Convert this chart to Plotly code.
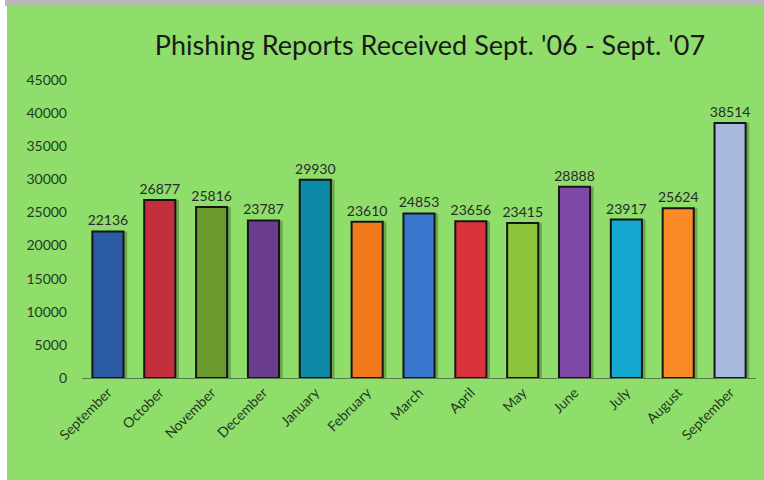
import plotly.graph_objects as go

months = ["September", "October", "November", "December", "January", "February",
          "March", "April", "May", "June", "July", "August", "September"]
reports = [22136, 26877, 25816, 23787, 29930, 23610, 24853, 23656, 23415,
           28888, 23917, 25624, 38514]
bar_colors = ["#2c5ba6", "#c3303b", "#6a9a2c", "#6b3d8e", "#0f8aa6", "#f07a1c",
              "#3a78cf", "#d9333e", "#8cc43c", "#7e48a6", "#15a8cf", "#f98a25",
              "#a9b9e0"]
y_ticks = [0, 5000, 10000, 15000, 20000, 25000, 30000, 35000, 40000, 45000]
title_text = "Phishing Reports Received Sept. '06 - Sept. '07"

W, H = 764, 480
L, R, T, B = 82, 8, 80, 102
pw, ph = W - L - R, H - T - B

def px(x):
    return (x - L) / pw

def py(y):
    return (H - B - y) / ph

x_idx = list(range(len(months)))
FONT = "Lato, Noto Sans, sans-serif"

fig = go.Figure()
# soft shadow behind bars
fig.add_trace(go.Bar(
    x=x_idx, y=reports, marker=dict(color="rgba(40,70,20,0.35)", line=dict(width=0)),
    offset=-0.25, width=0.62, hoverinfo="skip", showlegend=False,
))
fig.add_trace(go.Bar(
    x=x_idx, y=reports,
    marker=dict(color=bar_colors, line=dict(color="#151515", width=2)),
    width=0.6, offset=-0.3,
    text=[str(v) for v in reports], textposition="outside",
    constraintext="none",
    textfont=dict(family=FONT, size=14, color="#2a2a2a"),
    cliponaxis=False, showlegend=False,
))

fig.update_layout(
    width=W, height=H,
    margin=dict(l=L, r=R, t=T, b=B),
    paper_bgcolor="white",
    plot_bgcolor="rgba(0,0,0,0)",
    barmode="overlay",
    title=dict(text=title_text, x=px(430), xref="paper", xanchor="center",
               y=1 - 46 / H, yanchor="middle",
               font=dict(family=FONT, size=27, color="#1a1a1a")),
    font=dict(family=FONT, color="#2a2a2a"),
    xaxis=dict(
        tickmode="array", tickvals=x_idx, ticktext=months, tickangle=-45,
        range=[-0.5, len(months) - 0.5],
        showline=True, linecolor="#5a7a4a", linewidth=1, showgrid=False,
        ticks="", tickfont=dict(size=14, color="#1f3a1f"), zeroline=False,
    ),
    yaxis=dict(
        range=[0, 45000], tickvals=y_ticks, ticktext=[str(v) for v in y_ticks],
        showgrid=False, zeroline=False, showline=False, ticks="",
        ticklabelstandoff=14,
        tickfont=dict(size=14, color="#1f3a1f"),
    ),
    shapes=[
        dict(type="rect", xref="paper", yref="paper", layer="below",
             x0=px(5), x1=px(W), y0=py(0), y1=py(6),
             fillcolor="#b9b9b9", line=dict(width=0)),
        dict(type="rect", xref="paper", yref="paper", layer="below",
             x0=px(7), x1=px(W), y0=py(6), y1=py(H),
             fillcolor="#8fde6b", line=dict(width=0)),
    ],
)

fig.write_html("out.html")
